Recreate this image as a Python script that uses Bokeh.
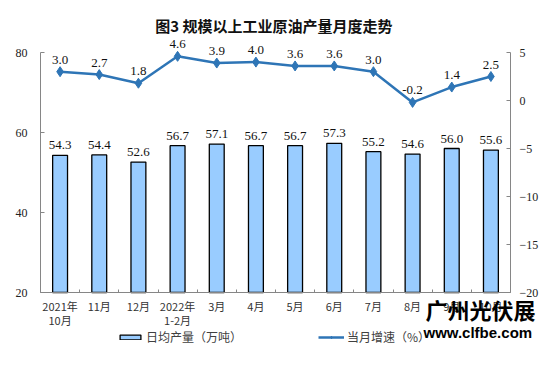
import numpy as np
from bokeh.plotting import figure
from bokeh.models import (Range1d, LinearAxis, FixedTicker, Label, LabelSet, Legend,
                          LegendItem, ColumnDataSource)
from bokeh.embed import file_html
from bokeh.resources import INLINE

categories = ["2021年\n10月", "11月", "12月", "2022年\n1-2月", "3月", "4月", "5月", "6月",
              "7月", "8月", "9月", "10月"]
production = [54.3, 54.4, 52.6, 56.7, 57.1, 56.7, 56.7, 57.3, 55.2, 54.6, 56.0, 55.6]
growth = [3.0, 2.7, 1.8, 4.6, 3.9, 4.0, 3.6, 3.6, 3.0, -0.2, 1.4, 2.5]
left_ticks = [20, 40, 60, 80]
right_ticks = [-20, -15, -10, -5, 0, 5]

n = len(categories)
xs = list(np.arange(n) + 0.5)
bounds = list(np.arange(n + 1).astype(float))

src = ColumnDataSource(dict(
    x=xs, prod=production, rate=growth,
    prod_txt=[f"{v:.1f}" for v in production],
    rate_txt=[f"{v:.1f}" for v in growth],
))

# the frame covers the whole figure; axes are pinned and bounded to the plot area
W, H = 554, 369
left_px, right_px = 40, 44
top_px, bot_px = 52, 77
xppu = (W - left_px - right_px) / n
span_px = H - top_px - bot_px
lpp = (left_ticks[-1] - left_ticks[0]) / span_px
rpp = (right_ticks[-1] - right_ticks[0]) / span_px

p = figure(width=W, height=H, output_backend="svg", toolbar_location=None,
           x_range=Range1d(-left_px / xppu, n + right_px / xppu),
           y_range=Range1d(left_ticks[0] - bot_px * lpp, left_ticks[-1] + top_px * lpp),
           min_border_left=0, min_border_right=0, min_border_top=0, min_border_bottom=0)
p.extra_y_ranges = {"rate": Range1d(right_ticks[0] - bot_px * rpp, right_ticks[-1] + top_px * rpp)}
p.outline_line_color = None
p.grid.visible = False
p.background_fill_color = "white"
p.border_fill_color = "white"

axis_col = "#868686"

# x axis
xa = p.xaxis[0]
xa.fixed_location = left_ticks[0]
xa.bounds = (0, n)
xa.ticker = FixedTicker(ticks=xs, minor_ticks=bounds)
xa.major_label_overrides = {float(x): c for x, c in zip(xs, categories)}
xa.major_tick_in = 0
xa.major_tick_out = 0
xa.minor_tick_in = 3
xa.minor_tick_out = 0
xa.minor_tick_line_color = axis_col
xa.axis_line_color = axis_col
xa.major_label_standoff = 5
xa.major_label_text_font = "Noto Sans CJK SC"
xa.major_label_text_font_size = "11px"
xa.major_label_text_line_height = 0.9
xa.major_label_text_color = "#333333"

# left axis
ya = p.yaxis[0]
ya.fixed_location = 0
ya.ticker = FixedTicker(ticks=left_ticks)
ya.bounds = (left_ticks[0], left_ticks[-1])
ya.major_tick_in = 4
ya.major_tick_out = 0
ya.minor_tick_line_color = None
ya.axis_line_color = axis_col
ya.major_tick_line_color = axis_col
ya.major_label_standoff = 13
ya.major_label_text_font = "Liberation Serif"
ya.major_label_text_font_size = "12px"
ya.major_label_text_color = "#222222"

# right axis
ra = LinearAxis(y_range_name="rate", ticker=FixedTicker(ticks=right_ticks),
                bounds=(right_ticks[0], right_ticks[-1]), fixed_location=n)
ra.major_tick_in = 4
ra.major_tick_out = 0
ra.minor_tick_line_color = None
ra.axis_line_color = axis_col
ra.major_tick_line_color = axis_col
ra.major_label_standoff = 9
ra.major_label_text_font = "Liberation Serif"
ra.major_label_text_font_size = "12px"
ra.major_label_text_color = "#222222"
p.add_layout(ra, "right")

bars = p.vbar(x="x", top="prod", bottom=left_ticks[0], width=0.38, source=src,
              fill_color="#99CCFF", line_color="black", line_width=1.3)
line = p.line(x="x", y="rate", source=src, y_range_name="rate",
              line_color="#2E75B6", line_width=2.5)
marks = p.scatter(x="x", y="rate", source=src, y_range_name="rate", marker="diamond",
                  size=10, fill_color="#2E75B6", line_color="#2E75B6")

p.add_layout(LabelSet(x="x", y="prod", text="prod_txt", source=src, y_offset=6,
                      text_align="center", text_baseline="bottom",
                      text_font="Liberation Sans", text_font_size="13px", text_color="#111111"))
p.add_layout(LabelSet(x="x", y="rate", text="rate_txt", source=src, y_range_name="rate",
                      y_offset=8, text_align="center", text_baseline="bottom",
                      text_font="Liberation Sans", text_font_size="13px", text_color="#111111"))

p.add_layout(Label(x=n / 2, y=left_ticks[-1] + 27 * lpp, text="图3  规模以上工业原油产量月度走势",
                   text_align="center", text_baseline="middle",
                   text_font="Noto Sans CJK SC", text_font_style="bold",
                   text_font_size="15px", text_color="#111111"))

legend = Legend(items=[LegendItem(label="日均产量（万吨）", renderers=[bars]),
                       LegendItem(label="当月增速（%）", renderers=[line, marks])],
                orientation="horizontal", location=(117, 24),
                glyph_width=26, glyph_height=6, label_height=14, label_standoff=3,
                spacing=76, padding=0, margin=0,
                border_line_color=None, background_fill_alpha=0,
                label_text_font="Noto Sans CJK SC", label_text_font_size="12px",
                label_text_color="#404040")
p.add_layout(legend)

# watermark
p.add_layout(Label(x=(425 - left_px) / xppu, y=left_ticks[0] - 16 * lpp, text="广州光伏展",
                   text_align="left", text_baseline="middle",
                   text_font="Noto Sans CJK SC", text_font_style="bold", text_font_size="22px",
                   text_color="black"))
p.add_layout(Label(x=(423 - left_px) / xppu, y=left_ticks[0] - 40 * lpp, text="www.clfbe.com",
                   text_align="left", text_baseline="middle",
                   text_font="Liberation Sans", text_font_style="bold", text_font_size="15px",
                   text_color="black"))

open("out.html", "w").write(file_html(p, INLINE))
